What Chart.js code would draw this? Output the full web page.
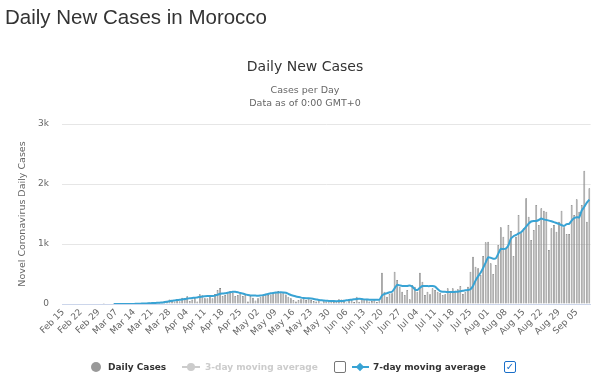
<!DOCTYPE html>
<html lang="en">
<head>
  <meta charset="UTF-8">
  <title>Daily New Cases in Morocco</title>
  <script src="https://cdn.jsdelivr.net/npm/chart.js"></script>
  <style>
    body { margin: 0; background: #fff; font-family: "DejaVu Sans", sans-serif; }
    #page { position: relative; width: 600px; height: 376px; overflow: hidden; }
    .abs { position: absolute; white-space: nowrap; }
    /* ページ見出し */
    #heading { left: 5px; top: 7px; font: 20.5px/1 "Liberation Sans", Arial, sans-serif; color: #333; }
    .center { left: 0; width: 610px; text-align: center; }
    #title { top: 58px; font-size: 14px; line-height: 16px; color: #333; }
    .sub { font-size: 9.5px; line-height: 12px; color: #666; }
    #chart-box { position: absolute; left: 0; top: 0; width: 600px; height: 376px; }
    /* 凡例 */
    .leg { font-weight: bold; font-size: 9px; line-height: 12px; top: 361px; }
    .box { position: absolute; top: 361px; width: 10px; height: 10px; border-radius: 2px; background: #fff; }
  </style>
</head>
<body>
<div id="page">
  <div id="chart-box"><canvas id="chart" width="600" height="376"></canvas></div>

  <div id="heading" class="abs">Daily New Cases in Morocco</div>
  <div id="title" class="abs center">Daily New Cases</div>
  <div class="abs center sub" style="top:84px">Cases per Day</div>
  <div class="abs center sub" style="top:97px">Data as of 0:00 GMT+0</div>

  <!-- 凡例（HTML） -->
  <div class="abs" style="left:91px;top:362px;width:10px;height:10px;border-radius:50%;background:#999"></div>
  <div class="abs leg" style="left:108px;color:#333">Daily Cases</div>

  <div class="abs" style="left:182px;top:366px;width:18px;height:2px;background:#ccc"></div>
  <div class="abs" style="left:187px;top:363px;width:8px;height:8px;border-radius:50%;background:#ccc"></div>
  <div class="abs leg" style="left:205px;color:#ccc">3-day moving average</div>
  <div class="box" style="left:334px;border:1px solid #777"></div>

  <div class="abs" style="left:352px;top:366px;width:17px;height:2px;background:#38a3d4"></div>
  <div class="abs" style="left:357px;top:364px;width:6px;height:6px;background:#38a3d4;transform:rotate(45deg)"></div>
  <div class="abs leg" style="left:373px;color:#333">7-day moving average</div>
  <div class="box" style="left:504px;border:1px solid #1a6fc9;color:#1a6fc9;font:bold 10px/10px 'DejaVu Sans';text-align:center">&#10003;</div>
</div>

<script>
  // 日付: 2020-02-15 から 209 日分
  const startDate = new Date(2020, 1, 15);
  const dayCount = 209;

  // 7日ごとの目盛りラベル
  const tickLabels = [
    'Feb 15', 'Feb 22', 'Feb 29', 'Mar 07', 'Mar 14', 'Mar 21', 'Mar 28',
    'Apr 04', 'Apr 11', 'Apr 18', 'Apr 25', 'May 02', 'May 09', 'May 16',
    'May 23', 'May 30', 'Jun 06', 'Jun 13', 'Jun 20', 'Jun 27', 'Jul 04',
    'Jul 11', 'Jul 18', 'Jul 25', 'Aug 01', 'Aug 08', 'Aug 15', 'Aug 22',
    'Aug 29', 'Sep 05'
  ];

  const dailyCases = [
    0, 0, 0, 0, 0, 0, 0, 0, 0, 0, 0, 0, 0, 0, 0, 0,
    1, 0, 0, 0, 1, 0, 0, 0, 1, 3, 0, 1, 10, 10, 9, 16, 10, 9, 23, 23, 19, 28, 27, 27, 50, 50, 73, 57, 43, 82,
    46, 106, 83, 128, 52, 74, 102, 43, 161, 146, 94, 97, 132, 96, 166, 235, 265, 133, 150, 178,
    217, 190, 133, 150, 189, 133, 150, 40, 133, 106,
    60, 95, 122, 150, 155, 150, 160, 178, 194, 215, 178, 200, 160, 122, 94, 67, 40, 67, 78, 90,
    67, 100, 67, 48, 40, 56, 22, 45, 40, 30, 55,
    38, 39, 81, 76, 70, 26, 85, 75, 32, 122, 38, 76, 85, 88, 40, 53, 80, 35, 60,
    522, 205, 122, 167, 178, 539, 400, 289, 205, 150, 233, 78, 317, 289, 205, 522, 372,
    150, 205, 161, 261, 233, 205, 189, 150, 161, 261, 178, 261, 222, 244, 300, 167, 205, 289, 539,
    789, 622, 594, 483, 800, 1028, 1039, 678,
    500, 650, 983, 1278, 1122, 939, 1317, 1217, 800, 1122, 1483, 1178, 1261, 1761, 1456, 1067,
    1233, 1650, 1317, 1594, 1556, 1539, 900, 1261, 1317, 1206, 1372, 1556, 1278, 1167, 1167,
    1650, 1483, 1744, 1539, 1650, 2222, 1372, 1928
  ];

  const movingAvg7 = [
    null, null, null, null, null, null, null, null, null, null,
    null, null, null, null, null, null, null, null, null, null,
    0, 0, 0, 0, 0, 1, 1, 1, 2, 4, 5, 7, 8, 9, 13, 15, 17, 20, 22, 26, 30, 38, 46, 55, 60, 65,
    70, 75, 82, 90, 95, 100, 105, 110, 118, 125, 130, 132, 133, 135, 140, 155, 170, 175, 180, 188,
    195, 203, 205, 195, 182, 175, 160, 150, 142, 140,
    140, 138, 140, 148, 158, 168, 178, 185, 190, 193, 194, 192, 188, 170, 150, 138, 125, 115, 106, 100,
    97, 95, 92, 84, 76, 68, 63, 58, 55, 52, 50,
    48, 47, 48, 50, 55, 62, 68, 72, 78, 85, 88, 84, 77, 74, 72, 70, 70, 70, 72,
    140, 170, 180, 195, 205, 260, 320, 310, 300, 298, 300, 310, 290, 245, 233, 270, 300,
    300, 298, 298, 300, 290, 250, 215, 205, 203, 200, 200, 200, 203, 205, 212, 220, 228, 233, 245,
    300, 390, 460, 520, 600, 690, 780, 770,
    755, 760, 840, 920, 915, 925, 980, 1090, 1130, 1150, 1175, 1195, 1240, 1290, 1340, 1375,
    1385, 1385, 1400, 1425, 1410, 1400, 1390, 1378, 1365, 1350, 1335, 1315, 1300, 1330, 1335,
    1390, 1430, 1445, 1445, 1560, 1620, 1690, 1740
  ];

  const yTicks = [0, 1000, 2000, 3000];

  const months = ['Jan','Feb','Mar','Apr','May','Jun','Jul','Aug','Sep','Oct','Nov','Dec'];
  const days = [];
  for (let i = 0; i < dayCount; i++) {
    const d = new Date(startDate);
    d.setDate(d.getDate() + i);
    days.push(months[d.getMonth()] + ' ' + String(d.getDate()).padStart(2, '0'));
  }

  const axisFont = { family: 'DejaVu Sans', size: 9 };

  new Chart(document.getElementById('chart'), {
    data: {
      labels: days,
      datasets: [
        {
          type: 'line',
          label: '7-day moving average',
          data: movingAvg7,
          borderColor: '#38a3d4',
          borderWidth: 2,
          pointRadius: 0,
          tension: 0.2,
          order: 0
        },
        {
          type: 'bar',
          label: 'Daily Cases',
          data: dailyCases,
          backgroundColor: '#a3a3a3',
          borderColor: '#6f6f6f',
          borderWidth: { left: 0.6, right: 0.6, top: 0.6, bottom: 0 },
          barPercentage: 0.72,
          categoryPercentage: 1,
          order: 1
        }
      ]
    },
    options: {
      responsive: false,
      animation: false,
      layout: { padding: { top: 124, left: 0, right: 3, bottom: 26 } },
      plugins: { legend: { display: false }, tooltip: { enabled: false } },
      scales: {
        x: {
          offset: true,
          grid: { display: false, drawTicks: false },
          border: { display: true, color: '#ccd6eb', width: 1 },
          ticks: {
            autoSkip: false,
            minRotation: 45,
            maxRotation: 45,
            padding: 3,
            color: '#666',
            font: axisFont,
            callback: (v, i) => (i % 7 === 0 ? tickLabels[i / 7] : '')
          },
          afterFit: s => { s.height = 46; }
        },
        y: {
          min: 0,
          max: 3000,
          afterBuildTicks: s => { s.ticks = yTicks.map(v => ({ value: v })); },
          grid: { color: '#e6e6e6', drawTicks: false },
          border: { display: false },
          ticks: {
            padding: 13,
            color: '#666',
            font: axisFont,
            callback: v => (v === 0 ? '0' : v / 1000 + 'k')
          },
          title: {
            display: true,
            text: 'Novel Coronavirus Daily Cases',
            color: '#666',
            font: { family: 'DejaVu Sans', size: 9.5 },
            padding: { top: 17, bottom: 0 }
          },
          afterFit: s => { s.width = 62; }
        }
      }
    }
  });
</script>
</body>
</html>
